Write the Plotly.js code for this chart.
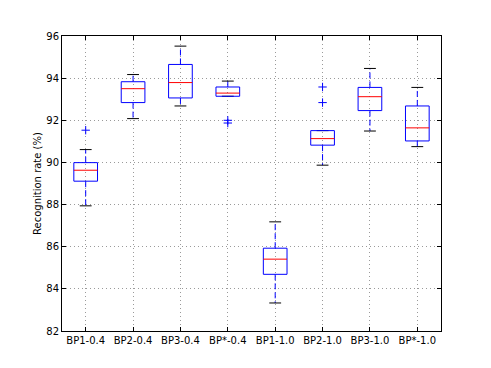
<!DOCTYPE html>
<html>
<head>
<meta charset="utf-8">
<script src="https://cdn.plot.ly/plotly-3.0.1.min.js"></script>
<style>
  body { margin: 0; background: #fff; }
  #box-plot { width: 491px; height: 368px; }
</style>
</head>
<body>
<div id="box-plot"></div>
<script>
var categories = ["BP1-0.4", "BP2-0.4", "BP3-0.4", "BP*-0.4", "BP1-1.0", "BP2-1.0", "BP3-1.0", "BP*-1.0"];
var lowerWhisker = [87.94, 92.08, 92.68, 93.14, 83.33, 89.87, 91.49, 90.75];
var q1 = [89.11, 92.84, 93.06, 93.14, 84.69, 90.82, 92.46, 91.02];
var median = [89.63, 93.50, 93.79, 93.29, 85.41, 91.13, 93.12, 91.64];
var q3 = [89.99, 93.83, 94.65, 93.58, 85.93, 91.51, 93.56, 92.68];
var upperWhisker = [90.61, 94.17, 95.52, 93.86, 87.18, 91.51, 94.46, 93.56];
var outlierGroup = [1, 4, 4, 6, 6];
var outlierValue = [91.53, 92.00, 91.87, 93.58, 92.84];

var boxHalf = 0.25, capHalf = 0.125;
var boxX = [], boxY = [], whiskX = [], whiskY = [], capX = [], capY = [], medX = [], medY = [];

categories.forEach(function(c, i) {
  var x = i + 1;
  boxX.push(x - boxHalf, x + boxHalf, x + boxHalf, x - boxHalf, x - boxHalf, null);
  boxY.push(q1[i], q1[i], q3[i], q3[i], q1[i], null);
  whiskX.push(x, x, null, x, x, null);
  whiskY.push(q3[i], upperWhisker[i], null, q1[i], lowerWhisker[i], null);
  capX.push(x - capHalf, x + capHalf, null, x - capHalf, x + capHalf, null);
  capY.push(upperWhisker[i], upperWhisker[i], null, lowerWhisker[i], lowerWhisker[i], null);
  medX.push(x - boxHalf, x + boxHalf, null);
  medY.push(median[i], median[i], null);
});

var data = [
  {x: whiskX, y: whiskY, mode: "lines", line: {color: "#0000ff", width: 1, dash: "6px,3px"}},
  {x: capX, y: capY, mode: "lines", line: {color: "#000000", width: 1}},
  {x: boxX, y: boxY, mode: "lines", line: {color: "#0000ff", width: 1}},
  {x: medX, y: medY, mode: "lines", line: {color: "#ff0000", width: 1}},
  {x: outlierGroup, y: outlierValue, mode: "markers",
   marker: {symbol: "cross-thin-open", size: 6, color: "#0000ff", line: {color: "#0000ff", width: 1}}}
];

var axisStyle = {
  showgrid: true,
  gridcolor: "#9a9a9a",
  griddash: "1px,3px",
  gridwidth: 1,
  zeroline: false,
  showline: true,
  linecolor: "#000000",
  linewidth: 1,
  mirror: "ticks",
  ticks: "inside",
  ticklen: 4,
  tickcolor: "#000000"
};

var layout = {
  width: 491,
  height: 368,
  showlegend: false,
  margin: {l: 62, r: 50, t: 36, b: 37},
  paper_bgcolor: "#ffffff",
  plot_bgcolor: "#ffffff",
  font: {family: "DejaVu Sans", size: 10, color: "#000000"},
  xaxis: Object.assign({
    range: [0.5, 8.5],
    tickvals: [1, 2, 3, 4, 5, 6, 7, 8],
    ticktext: categories
  }, axisStyle),
  yaxis: Object.assign({
    range: [82, 96],
    dtick: 2,
    title: {text: "Recognition rate (%)", font: {size: 10}, standoff: 2}
  }, axisStyle)
};

Plotly.newPlot("box-plot", data, layout, {displayModeBar: false});
</script>
</body>
</html>
